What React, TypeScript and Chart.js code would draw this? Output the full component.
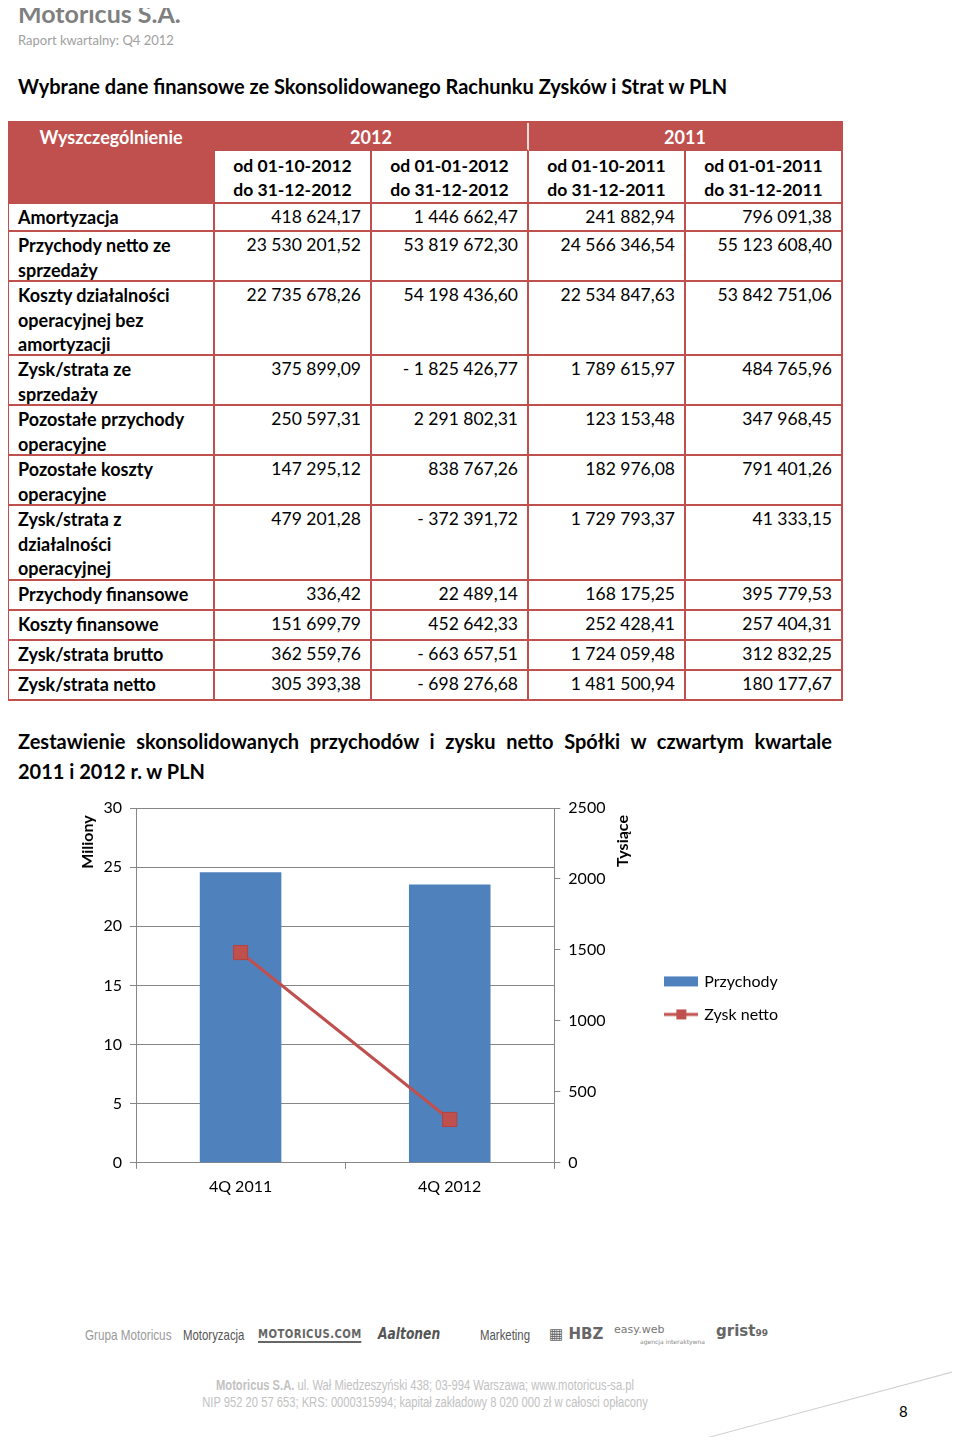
import React, { useEffect, useRef } from "react";
import { Chart, registerables } from "chart.js";

Chart.register(...registerables);

// ---------- Table data ----------
const rowLabels = [
  "Amortyzacja",
  "Przychody netto ze\nsprzedaży",
  "Koszty działalności\noperacyjnej bez\namortyzacji",
  "Zysk/strata ze\nsprzedaży",
  "Pozostałe przychody\noperacyjne",
  "Pozostałe koszty\noperacyjne",
  "Zysk/strata z\ndziałalności\noperacyjnej",
  "Przychody finansowe",
  "Koszty finansowe",
  "Zysk/strata brutto",
  "Zysk/strata netto",
];
const q4of2012 = ["418 624,17", "23 530 201,52", "22 735 678,26", "375 899,09", "250 597,31", "147 295,12", "479 201,28", "336,42", "151 699,79", "362 559,76", "305 393,38"];
const ytd2012 = ["1 446 662,47", "53 819 672,30", "54 198 436,60", "- 1 825 426,77", "2 291 802,31", "838 767,26", "- 372 391,72", "22 489,14", "452 642,33", "- 663 657,51", "- 698 276,68"];
const q4of2011 = ["241 882,94", "24 566 346,54", "22 534 847,63", "1 789 615,97", "123 153,48", "182 976,08", "1 729 793,37", "168 175,25", "252 428,41", "1 724 059,48", "1 481 500,94"];
const ytd2011 = ["796 091,38", "55 123 608,40", "53 842 751,06", "484 765,96", "347 968,45", "791 401,26", "41 333,15", "395 779,53", "257 404,31", "312 832,25", "180 177,67"];
const periodHeaders = ["od 01-10-2012\ndo 31-12-2012", "od 01-01-2012\ndo 31-12-2012", "od 01-10-2011\ndo 31-12-2011", "od 01-01-2011\ndo 31-12-2011"];
const yearHeaders = ["2012", "2011"];
const headerLabel = "Wyszczególnienie";
const rowHeights = [28, 50, 74, 50, 50, 50, 75, 30, 30, 30, 30];

// ---------- Chart data ----------
const categories = ["4Q 2011", "4Q 2012"];
const revenueMillions = [24.57, 23.53];
const netProfitThousands = [1481.5, 305.4];
const leftAxisMax = 30;
const leftAxisStep = 5;
const rightAxisMax = 2500;
const rightAxisStep = 500;
const leftAxisTitle = "Miliony";
const rightAxisTitle = "Tysiące";

const RED = "#c0504d";
const BLUE = "#4f81bd";
const FONT = "Lato, 'Open Sans', sans-serif";
const SANS = "'Liberation Sans', Arial, sans-serif";

function makeLegendImg(kind: "bar" | "line"): HTMLCanvasElement {
  const c = document.createElement("canvas");
  c.width = 34;
  c.height = 14;
  const ctx = c.getContext("2d")!;
  if (kind === "bar") {
    ctx.fillStyle = BLUE;
    ctx.fillRect(0, 2, 34, 10);
  } else {
    ctx.strokeStyle = RED;
    ctx.lineWidth = 3;
    ctx.beginPath();
    ctx.moveTo(0, 7);
    ctx.lineTo(34, 7);
    ctx.stroke();
    ctx.fillStyle = RED;
    ctx.fillRect(12, 2, 10, 10);
  }
  return c;
}

const axisTitlesPlugin = {
  id: "axisTitles",
  afterDraw(chart: any) {
    const { ctx, chartArea } = chart;
    const yL = chart.scales.yL;
    const yR = chart.scales.yR;
    ctx.save();
    ctx.fillStyle = "#000";
    ctx.font = `bold 16px ${FONT}`;
    ctx.textAlign = "center";
    ctx.textBaseline = "middle";
    ctx.save();
    ctx.translate(yL.left + 28, chartArea.top + 34);
    ctx.rotate(-Math.PI / 2);
    ctx.fillText(leftAxisTitle, 0, 0);
    ctx.restore();
    ctx.save();
    ctx.translate(yR.left + 69, chartArea.top + 33);
    ctx.rotate(-Math.PI / 2);
    ctx.fillText(rightAxisTitle, 0, 0);
    ctx.restore();
    ctx.restore();
  },
};

function ComboChart() {
  const ref = useRef<HTMLCanvasElement | null>(null);
  useEffect(() => {
    if (!ref.current) return;
    const legendImgs = [makeLegendImg("bar"), makeLegendImg("line")];
    const tickFont = { family: FONT, size: 16 };
    const plain = (v: any) => String(v);
    const chart = new Chart(ref.current, {
      type: "bar",
      data: {
        labels: categories,
        datasets: [
          {
            type: "bar",
            label: "Przychody",
            data: revenueMillions,
            backgroundColor: BLUE,
            yAxisID: "yL",
            categoryPercentage: 1,
            barPercentage: 0.39,
            order: 2,
          },
          {
            type: "line",
            label: "Zysk netto",
            data: netProfitThousands,
            borderColor: RED,
            backgroundColor: RED,
            borderWidth: 3,
            pointStyle: "rect",
            pointRadius: 10,
            pointBorderColor: "#b4423f",
            pointBorderWidth: 1,
            pointBackgroundColor: RED,
            yAxisID: "yR",
            order: 1,
          },
        ] as any,
      },
      options: {
        animation: false,
        responsive: false,
        events: [],
        layout: { padding: { top: 18, bottom: 6, left: 0, right: 0 } },
        plugins: {
          tooltip: { enabled: false },
          legend: {
            position: "right",
            align: "center",
            fullSize: false,
            maxWidth: 220,
            title: { display: true, text: "", font: { size: 10 }, padding: { top: 0, bottom: 13 } },
            labels: {
              usePointStyle: true,
              pointStyleWidth: 30,
              padding: 17,
              color: "#000",
              font: { family: FONT, size: 16 },
              sort: (a: any, b: any) => a.datasetIndex - b.datasetIndex,
              generateLabels: (ch: any) => {
                const items = (Chart.defaults.plugins.legend.labels as any).generateLabels(ch);
                items.forEach((it: any) => {
                  it.pointStyle = legendImgs[it.datasetIndex];
                });
                return items;
              },
            },
          },
        },
        scales: {
          x: {
            grid: { offset: true, drawOnChartArea: false, drawTicks: true, tickLength: 6, color: "#868686" },
            border: { color: "#868686" },
            ticks: { font: tickFont, color: "#000", padding: 8 },
          },
          yL: {
            position: "left",
            min: 0,
            max: leftAxisMax,
            ticks: { stepSize: leftAxisStep, font: tickFont, color: "#000", padding: 8, callback: plain },
            grid: { color: "#868686", tickLength: 6 },
            border: { color: "#868686" },
            afterFit: (s: any) => {
              s.width = 76;
            },
          },
          yR: {
            position: "right",
            min: 0,
            max: rightAxisMax,
            ticks: { stepSize: rightAxisStep, font: tickFont, color: "#000", padding: 8, callback: plain },
            grid: { drawOnChartArea: false, color: "#868686", tickLength: 6 },
            border: { color: "#868686" },
            afterFit: (s: any) => {
              s.width = 95;
            },
          },
        },
      } as any,
      plugins: [axisTitlesPlugin],
    });
    return () => chart.destroy();
  }, []);
  return <canvas ref={ref} width={728} height={420} style={{ position: "absolute", left: 60, top: 790, width: 728, height: 420 }} />;
}

const B = `2px solid ${RED}`;

function FinTable() {
  const cell: React.CSSProperties = {
    boxSizing: "border-box",
    borderRight: B,
    borderBottom: B,
    padding: "1px 9px 0 9px",
    lineHeight: "24.5px",
    fontSize: 17.5,
    whiteSpace: "pre-line",
    overflow: "hidden",
  };
  const columns = [q4of2012, ytd2012, q4of2011, ytd2011];
  return (
    <div
      style={{
        position: "absolute",
        left: 7,
        top: 121,
        display: "grid",
        gridTemplateColumns: "206px 157px 157px 157px 157px",
        gridTemplateRows: ["28px", "53px", ...rowHeights.map((h) => `${h}px`)].join(" "),
        borderLeft: B,
        borderTop: B,
        fontFamily: FONT,
        color: "#000",
      }}
    >
      <div style={{ ...cell, gridRow: "1 / 3", gridColumn: "1 / 2", background: RED, color: "#fff", fontWeight: 700, fontSize: 18, textAlign: "center", paddingTop: 2 }}>
        {headerLabel}
      </div>
      {yearHeaders.map((y, i) => (
        <div
          key={y}
          style={{
            ...cell,
            gridRow: "1 / 2",
            gridColumn: `${2 + i * 2} / ${4 + i * 2}`,
            background: RED,
            color: "#fff",
            fontWeight: 700,
            fontSize: 18,
            textAlign: "center",
            paddingTop: 2,
            borderRight: i === 0 ? "2px solid #f2dcdb" : B,
          }}
        >
          {y}
        </div>
      ))}
      {periodHeaders.map((p, i) => (
        <div key={p} style={{ ...cell, gridRow: "2 / 3", gridColumn: `${2 + i} / ${3 + i}`, fontWeight: 700, textAlign: "center", paddingTop: 3, lineHeight: "24px" }}>
          {p}
        </div>
      ))}
      {rowLabels.map((label, r) => (
        <React.Fragment key={label}>
          <div style={{ ...cell, gridRow: `${r + 3} / ${r + 4}`, gridColumn: "1 / 2", fontWeight: 700, fontSize: 18 }}>{label}</div>
          {columns.map((col, j) => (
            <div key={j} style={{ ...cell, gridRow: `${r + 3} / ${r + 4}`, gridColumn: `${j + 2} / ${j + 3}`, textAlign: "right" }}>
              {col[r]}
            </div>
          ))}
        </React.Fragment>
      ))}
    </div>
  );
}

export default function App() {
  const abs = (x: number, y: number): React.CSSProperties => ({ position: "absolute", left: x, top: y, whiteSpace: "nowrap" });
  const narrow = (x: number, y: number, sx: number): React.CSSProperties => ({
    ...abs(x, y),
    fontFamily: SANS,
    fontSize: 15,
    transform: `scaleX(${sx})`,
    transformOrigin: "left center",
  });
  return (
    <div style={{ position: "relative", margin: -8, width: 960, height: 1445, overflow: "hidden", background: "#fff", fontFamily: FONT }}>
      <div style={{ ...abs(18, -2), fontSize: 25, fontWeight: 700, color: "#7f7f7f" }}>Motoricus S.A.</div>
      <div style={{ ...abs(18, 32), fontSize: 13, color: "#a0a0a0" }}>Raport kwartalny: Q4 2012</div>
      <div style={{ ...abs(18, 74), fontSize: 20, fontWeight: 700, color: "#000" }}>
        Wybrane dane finansowe ze Skonsolidowanego Rachunku Zysków i Strat w PLN
      </div>

      <FinTable />

      <div style={{ position: "absolute", left: 18, top: 726, width: 814, fontSize: 20, fontWeight: 700, lineHeight: "30px", color: "#000" }}>
        <div style={{ textAlign: "justify", textAlignLast: "justify" } as React.CSSProperties}>
          Zestawienie skonsolidowanych przychodów i zysku netto Spółki w czwartym kwartale
        </div>
        <div>2011 i 2012 r. w PLN</div>
      </div>

      <ComboChart />

      {/* footer logos */}
      <div style={{ ...narrow(85, 1326, 0.78), color: "#9a9a9a" }}>Grupa Motoricus</div>
      <div style={{ ...narrow(183, 1326, 0.76), color: "#555" }}>Motoryzacja</div>
      <div
        style={{
          ...abs(258, 1327),
          fontFamily: "'DejaVu Sans', sans-serif",
          fontSize: 12,
          fontWeight: 700,
          color: "#666",
          borderBottom: "2px solid #666",
          letterSpacing: 0.5,
          lineHeight: "14px",
          transform: "scaleX(0.84)",
          transformOrigin: "left center",
        }}
      >
        MOTORICUS.COM
      </div>
      <div style={{ ...abs(378, 1325), fontFamily: "'DejaVu Sans', sans-serif", fontSize: 15, fontWeight: 700, fontStyle: "italic", color: "#555", transform: "scaleX(0.82)", transformOrigin: "left center" }}>
        Aaltonen
      </div>
      <div style={{ ...narrow(480, 1326, 0.76), color: "#555" }}>Marketing</div>
      <div style={{ ...abs(549, 1325), fontFamily: "'DejaVu Sans', sans-serif", fontSize: 15, fontWeight: 700, color: "#666" }}>▦ HBZ</div>
      <div style={{ ...abs(614, 1323), fontFamily: "'DejaVu Sans', sans-serif", fontSize: 11, color: "#777" }}>easy.web</div>
      <div style={{ ...abs(640, 1338), fontFamily: "'DejaVu Sans', sans-serif", fontSize: 6, color: "#888" }}>agencja interaktywna</div>
      <div style={{ ...abs(716, 1322), fontFamily: "'DejaVu Sans', sans-serif", fontSize: 15, fontWeight: 700, color: "#666" }}>
        grist<span style={{ fontSize: 9 }}>99</span>
      </div>

      {/* address */}
      <div
        style={{
          position: "absolute",
          left: 0,
          width: 850,
          top: 1377,
          textAlign: "center",
          fontFamily: SANS,
          fontSize: 14,
          color: "#c2c2c2",
          lineHeight: "17px",
          transform: "scaleX(0.8)",
          transformOrigin: "425px center",
        }}
      >
        <b>Motoricus S.A.</b> ul. Wał Miedzeszyński 438; 03-994 Warszawa; www.motoricus-sa.pl
        <br />
        NIP 952 20 57 653; KRS: 0000315994; kapitał zakładowy 8 020 000 zł w całosci opłacony
      </div>
      <div style={{ ...abs(899, 1402), fontFamily: FONT, fontSize: 15, color: "#000" }}>8</div>
      <div
        style={{
          position: "absolute",
          left: 660,
          top: 1407,
          width: 320,
          height: 0,
          borderTop: "1px solid #d0d0d0",
          transform: "rotate(-15deg)",
          transformOrigin: "center",
        }}
      />
    </div>
  );
}
